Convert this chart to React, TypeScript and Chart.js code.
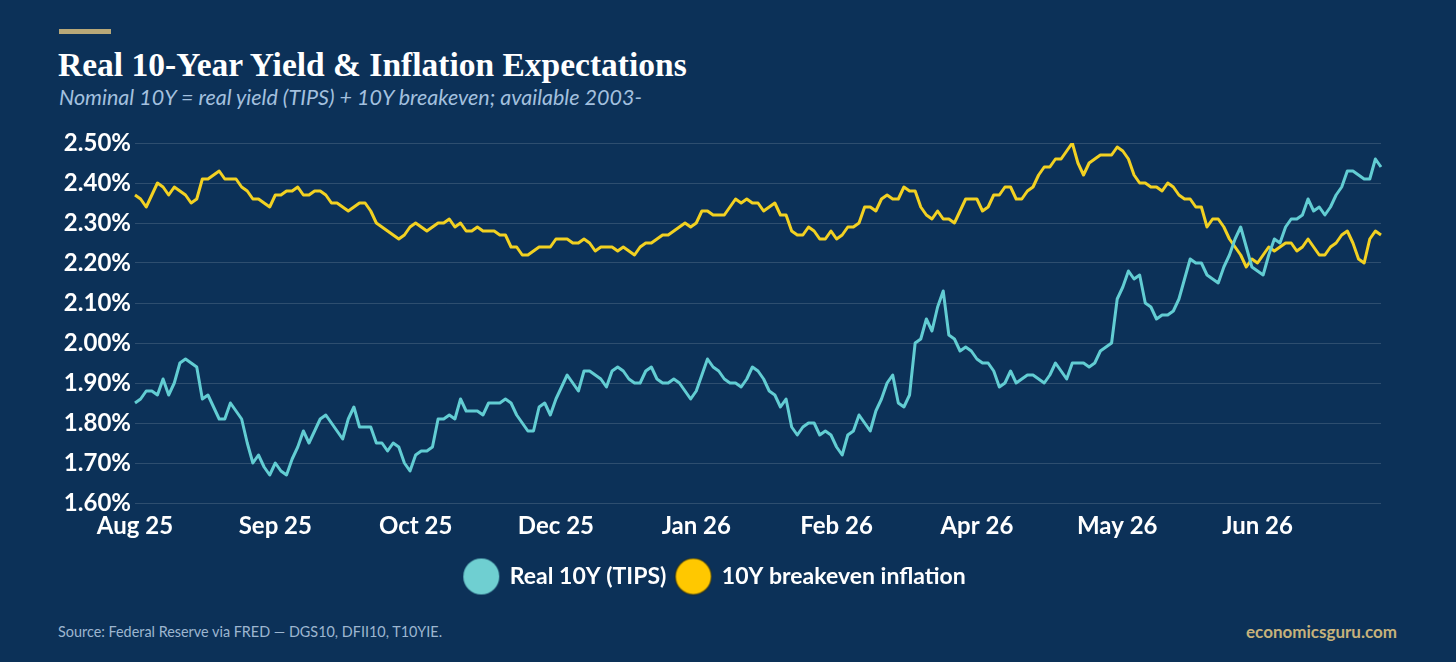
import React, { useEffect, useRef } from "react";
import { Chart, registerables } from "chart.js";

Chart.register(...registerables);

// ---- Data -------------------------------------------------------------
const MONTHS = ["Aug 25", "Sep 25", "Oct 25", "Nov 25", "Dec 25", "Jan 26", "Feb 26", "Mar 26", "Apr 26", "May 26", "Jun 26", "Jul 26"];
const MONTH_COUNTS = [10, 20, 22, 19, 20, 20, 19, 20, 20, 20, 21, 12];
const TICK_STEP = 25;

const Y_TICKS = [1.6, 1.7, 1.8, 1.9, 2.0, 2.1, 2.2, 2.3, 2.4, 2.5];

const REAL_10Y = [
  1.85, 1.86, 1.88, 1.88, 1.87, 1.91, 1.87, 1.90, 1.95, 1.96,
  1.95, 1.94, 1.86, 1.87, 1.84, 1.81, 1.81, 1.85, 1.83, 1.81,
  1.75, 1.70, 1.72, 1.69, 1.67, 1.70, 1.68, 1.67, 1.71, 1.74,
  1.78, 1.75, 1.78, 1.81, 1.82, 1.80, 1.78, 1.76, 1.81, 1.84,
  1.79, 1.79, 1.79, 1.75, 1.75, 1.73, 1.75, 1.74, 1.70, 1.68,
  1.72, 1.73, 1.73, 1.74, 1.81, 1.81, 1.82, 1.81, 1.86, 1.83,
  1.83, 1.83, 1.82, 1.85, 1.85, 1.85, 1.86, 1.85, 1.82, 1.80,
  1.78, 1.78, 1.84, 1.85, 1.82, 1.86, 1.89, 1.92, 1.90, 1.88,
  1.93, 1.93, 1.92, 1.91, 1.89, 1.93, 1.94, 1.93, 1.91, 1.90,
  1.90, 1.93, 1.94, 1.91, 1.90, 1.90, 1.91, 1.90, 1.88, 1.86,
  1.88, 1.92, 1.96, 1.94, 1.93, 1.91, 1.90, 1.90, 1.89, 1.91,
  1.94, 1.93, 1.91, 1.88, 1.87, 1.84, 1.86, 1.79, 1.77, 1.79,
  1.80, 1.80, 1.77, 1.78, 1.77, 1.74, 1.72, 1.77, 1.78, 1.82,
  1.80, 1.78, 1.83, 1.86, 1.90, 1.92, 1.85, 1.84, 1.87, 2.00,
  2.01, 2.06, 2.03, 2.09, 2.13, 2.02, 2.01, 1.98, 1.99, 1.98,
  1.96, 1.95, 1.95, 1.93, 1.89, 1.90, 1.93, 1.90, 1.91, 1.92,
  1.92, 1.91, 1.90, 1.92, 1.95, 1.93, 1.91, 1.95, 1.95, 1.95,
  1.94, 1.95, 1.98, 1.99, 2.00, 2.11, 2.14, 2.18, 2.16, 2.17,
  2.10, 2.09, 2.06, 2.07, 2.07, 2.08, 2.11, 2.16, 2.21, 2.20,
  2.20, 2.17, 2.16, 2.15, 2.19, 2.22, 2.26, 2.29, 2.24, 2.19,
  2.18, 2.17, 2.22, 2.26, 2.25, 2.29, 2.31, 2.31, 2.32, 2.36,
  2.33, 2.34, 2.32, 2.34, 2.37, 2.39, 2.43, 2.43, 2.42, 2.41,
  2.41, 2.46, 2.44,
];

const BREAKEVEN_10Y = [
  2.37, 2.36, 2.34, 2.37, 2.40, 2.39, 2.37, 2.39, 2.38, 2.37,
  2.35, 2.36, 2.41, 2.41, 2.42, 2.43, 2.41, 2.41, 2.41, 2.39,
  2.38, 2.36, 2.36, 2.35, 2.34, 2.37, 2.37, 2.38, 2.38, 2.39,
  2.37, 2.37, 2.38, 2.38, 2.37, 2.35, 2.35, 2.34, 2.33, 2.34,
  2.35, 2.35, 2.33, 2.30, 2.29, 2.28, 2.27, 2.26, 2.27, 2.29,
  2.30, 2.29, 2.28, 2.29, 2.30, 2.30, 2.31, 2.29, 2.30, 2.28,
  2.28, 2.29, 2.28, 2.28, 2.28, 2.27, 2.27, 2.24, 2.24, 2.22,
  2.22, 2.23, 2.24, 2.24, 2.24, 2.26, 2.26, 2.26, 2.25, 2.25,
  2.26, 2.25, 2.23, 2.24, 2.24, 2.24, 2.23, 2.24, 2.23, 2.22,
  2.24, 2.25, 2.25, 2.26, 2.27, 2.27, 2.28, 2.29, 2.30, 2.29,
  2.30, 2.33, 2.33, 2.32, 2.32, 2.32, 2.34, 2.36, 2.35, 2.36,
  2.35, 2.35, 2.33, 2.34, 2.35, 2.32, 2.32, 2.28, 2.27, 2.27,
  2.29, 2.28, 2.26, 2.26, 2.28, 2.26, 2.27, 2.29, 2.29, 2.30,
  2.34, 2.34, 2.33, 2.36, 2.37, 2.36, 2.36, 2.39, 2.38, 2.38,
  2.34, 2.32, 2.31, 2.33, 2.31, 2.31, 2.30, 2.33, 2.36, 2.36,
  2.36, 2.33, 2.34, 2.37, 2.37, 2.39, 2.39, 2.36, 2.36, 2.38,
  2.39, 2.42, 2.44, 2.44, 2.46, 2.46, 2.48, 2.50, 2.45, 2.42,
  2.45, 2.46, 2.47, 2.47, 2.47, 2.49, 2.48, 2.46, 2.42, 2.40,
  2.40, 2.39, 2.39, 2.38, 2.40, 2.39, 2.37, 2.36, 2.36, 2.34,
  2.34, 2.29, 2.31, 2.31, 2.29, 2.26, 2.24, 2.22, 2.19, 2.21,
  2.20, 2.22, 2.24, 2.23, 2.24, 2.25, 2.25, 2.23, 2.24, 2.26,
  2.24, 2.22, 2.22, 2.24, 2.25, 2.27, 2.28, 2.25, 2.21, 2.20,
  2.26, 2.28, 2.27,
];

const LABELS: string[] = MONTHS.flatMap((m, k) => Array(MONTH_COUNTS[k]).fill(m));

// ---- Styles -----------------------------------------------------------
const BG = "#0c3158";
const CYAN = "#62cdd3";
const CYAN_DOT = "#6fcfd1";
const YELLOW = "#f2d122";
const YELLOW_DOT = "#ffc800";
const GRID = "rgba(255,255,255,0.14)";
const SANS = "Lato, 'Noto Sans', sans-serif";

function makeDot(color: string, size: number, ring?: string): HTMLCanvasElement {
  const c = document.createElement("canvas");
  c.width = size;
  c.height = size;
  const ctx = c.getContext("2d")!;
  ctx.beginPath();
  ctx.arc(size / 2, size / 2, size / 2 - 1, 0, Math.PI * 2);
  ctx.fillStyle = color;
  ctx.fill();
  if (ring) {
    ctx.lineWidth = 1.2;
    ctx.strokeStyle = ring;
    ctx.stroke();
  }
  return c;
}

export default function App() {
  const canvasRef = useRef<HTMLCanvasElement | null>(null);

  useEffect(() => {
    document.body.style.margin = "0";
    document.body.style.background = BG;
    const canvas = canvasRef.current;
    if (!canvas) return;
    const dots = [makeDot(CYAN_DOT, 38), makeDot(YELLOW_DOT, 38, "rgba(40,40,10,0.6)")];

    const chart = new Chart(canvas, {
      type: "line",
      data: {
        labels: LABELS,
        datasets: [
          {
            label: "Real 10Y (TIPS)",
            data: REAL_10Y,
            borderColor: CYAN,
            backgroundColor: CYAN_DOT,
            borderWidth: 3,
            pointRadius: 0,
            tension: 0,
            borderJoinStyle: "round",
          },
          {
            label: "10Y breakeven inflation",
            data: BREAKEVEN_10Y,
            borderColor: YELLOW,
            backgroundColor: YELLOW_DOT,
            borderWidth: 3,
            pointRadius: 0,
            tension: 0,
            borderJoinStyle: "round",
          },
        ],
      },
      options: {
        animation: false,
        responsive: false,
        maintainAspectRatio: false,
        layout: { padding: { top: 23, left: 49, right: 75, bottom: 12 } },
        interaction: { mode: "index", intersect: false },
        plugins: {
          tooltip: { enabled: false },
          legend: {
            position: "bottom",
            labels: {
              usePointStyle: true,
              pointStyleWidth: 34,
              boxHeight: 21,
              padding: 10,
              color: "#ffffff",
              font: { family: SANS, size: 23, weight: "bold" },
              generateLabels: (ch: any) => {
                const base = (Chart as any).defaults.plugins.legend.labels.generateLabels(ch);
                return base.map((it: any, i: number) => ({ ...it, pointStyle: dots[i] }));
              },
            },
          },
        },
        scales: {
          x: {
            type: "category",
            grid: { display: false, drawTicks: false },
            border: { display: false },
            afterFit: (scale: any) => {
              scale.height = 52;
            },
            ticks: {
              autoSkip: false,
              maxRotation: 0,
              minRotation: 0,
              padding: 9,
              color: "#ffffff",
              font: { family: SANS, size: 24, weight: "bold" },
              callback: (_v: any, i: number) => (i % TICK_STEP === 0 ? LABELS[i] : null),
            },
          },
          y: {
            min: Y_TICKS[0],
            max: Y_TICKS[Y_TICKS.length - 1],
            afterBuildTicks: (scale: any) => {
              scale.ticks = Y_TICKS.map((v) => ({ value: v }));
            },
            afterFit: (scale: any) => {
              scale.width = 86;
            },
            grid: { color: GRID, lineWidth: 1, drawTicks: false },
            border: { display: false },
            ticks: {
              padding: 4,
              color: "#ffffff",
              font: { family: SANS, size: 24, weight: "bold" },
              callback: (v: any) => Number(v).toFixed(2) + "%",
            },
          },
        },
      },
    });
    return () => chart.destroy();
  }, []);

  return (
    <div
      style={{
        position: "fixed",
        left: 0,
        top: 0,
        width: 1456,
        height: 662,
        background: BG,
        overflow: "hidden",
      }}
    >
      <div style={{ position: "absolute", left: 59, top: 29, width: 52, height: 5, background: "#b8a878" }} />
      <div
        style={{
          position: "absolute",
          left: 58,
          top: 48,
          fontFamily: "'Liberation Serif', serif",
          fontWeight: 700,
          fontSize: 33.5,
          lineHeight: "33px",
          color: "#ffffff",
          whiteSpace: "nowrap",
        }}
      >
        Real 10-Year Yield &amp; Inflation Expectations
      </div>
      <div
        style={{
          position: "absolute",
          left: 59,
          top: 87,
          fontFamily: SANS,
          fontStyle: "italic",
          fontSize: 21.5,
          lineHeight: "21px",
          color: "#a3c0df",
          whiteSpace: "nowrap",
        }}
      >
        Nominal 10Y = real yield (TIPS) + 10Y breakeven; available 2003-
      </div>
      <canvas
        ref={canvasRef}
        width={1456}
        height={490}
        style={{ position: "absolute", left: 0, top: 120, width: 1456, height: 490 }}
      />
      <div
        style={{
          position: "absolute",
          left: 58,
          top: 624,
          fontFamily: SANS,
          fontSize: 14.4,
          lineHeight: "15px",
          color: "#9db6d0",
          whiteSpace: "nowrap",
        }}
      >
        Source: Federal Reserve via FRED — DGS10, DFII10, T10YIE.
      </div>
      <div
        style={{
          position: "absolute",
          right: 59,
          top: 623,
          fontFamily: SANS,
          fontWeight: 700,
          fontSize: 17,
          lineHeight: "17px",
          color: "#c6b27b",
          whiteSpace: "nowrap",
        }}
      >
        economicsguru.com
      </div>
    </div>
  );
}
